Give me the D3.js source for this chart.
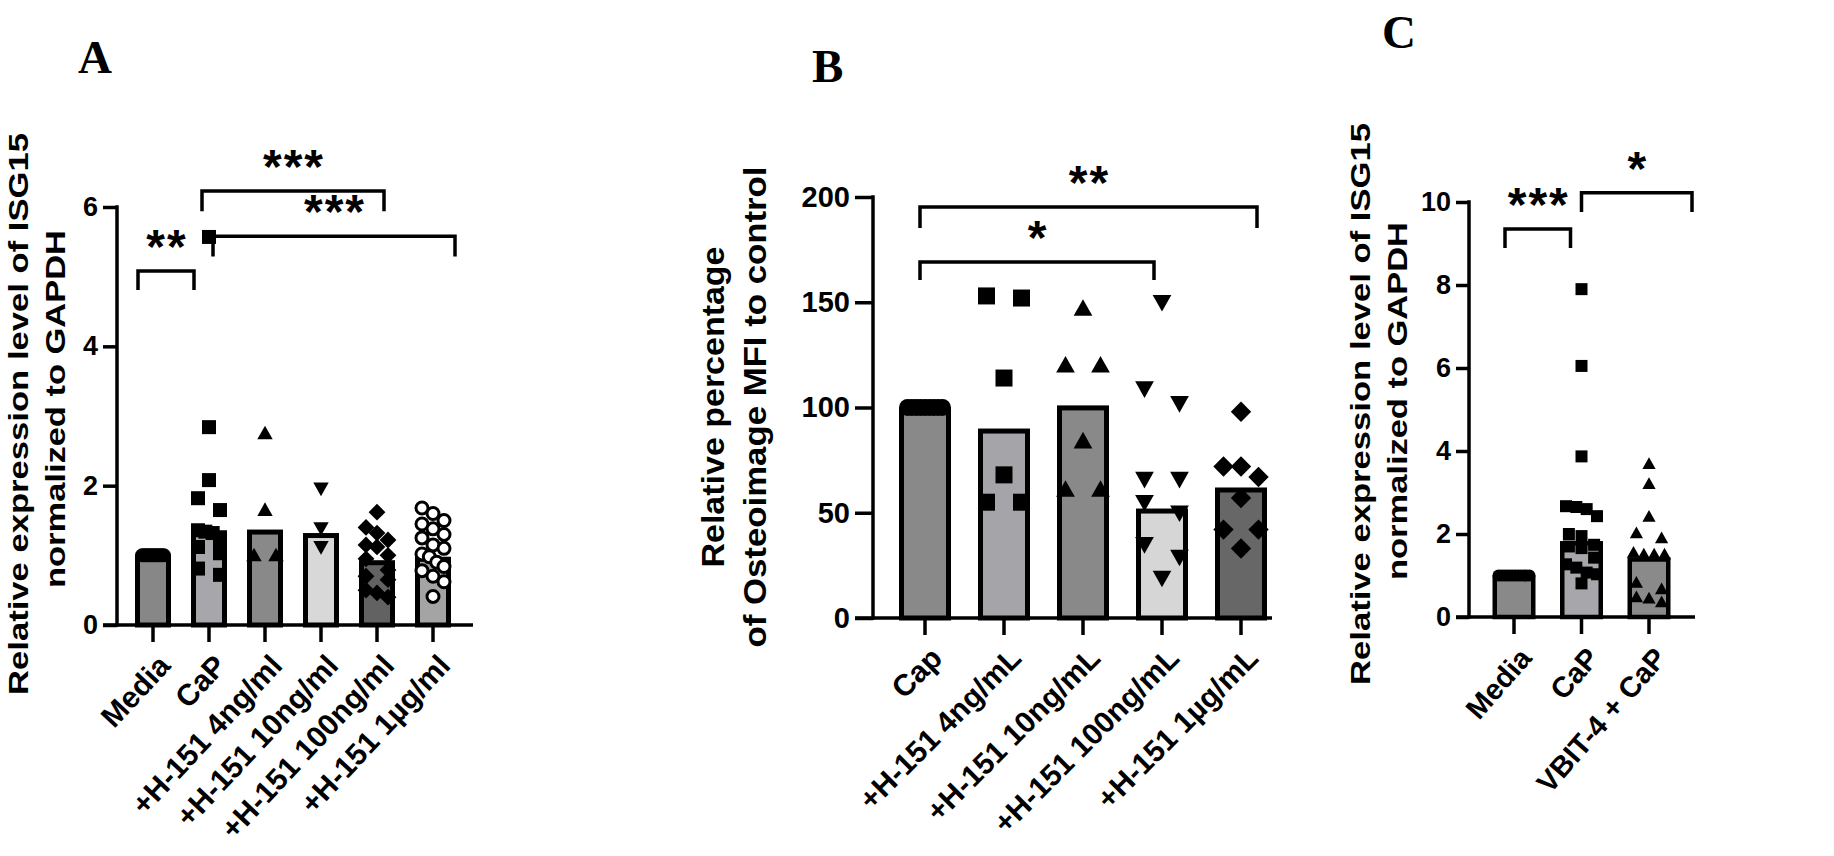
<!DOCTYPE html>
<html><head><meta charset="utf-8">
<script src="https://cdn.jsdelivr.net/npm/d3@7"></script>
<style>body{margin:0;background:#fff} svg{display:block}</style>
</head><body>
<svg id="chart" width="1834" height="856"></svg>
<script>
// ================= DATA =================
// Panel A : ISG15 expression, H-151 dose series
const categoriesA = ["Media","CaP","+H-151 4ng/ml","+H-151 10ng/ml","+H-151 100ng/ml","+H-151 1µg/ml"];
const barsA = [1.0, 1.36, 1.37, 1.32, 0.93, 0.98];
const mediaA = [1,1,1,1,1,1,1,1,1,1,1,1];
const capA = [5.57, 2.84, 2.08, 1.82, 1.65, 1.36, 1.34, 1.32, 1.22, 1.12, 1.03, 0.81, 0.72];
const h4A = [2.75, 1.65, 1.0, 1.0];
const h10A = [1.96, 1.39, 1.12];
const h100A = [1.62, 1.4, 1.32, 1.22, 1.15, 1.12, 1.0, 0.95, 0.79, 0.7, 0.65, 0.5, 0.46, 0.4];
const h1uA = [1.68, 1.6, 1.5, 1.45, 1.38, 1.3, 1.25, 1.15, 1.1, 1.02, 0.98, 0.9, 0.84, 0.78, 0.7, 0.62, 0.41];
const ticksA = [0, 2, 4, 6];
const sigA = [
  {from:"Media", to:"CaP", y:5.08, leg:4.81, label:"**", dx1:-15, dx2:-15},
  {from:"CaP", to:"+H-151 100ng/ml", y:6.23, leg:5.94, label:"***", dx1:-7, dx2:7},
  {from:"CaP", to:"+H-151 1µg/ml", y:5.58, leg:5.29, label:"***", dx1:4, dx2:22}
];
const titleA = ["Relative expression level of ISG15", "normalized to GAPDH"];

// Panel B : Osteoimage MFI
const categoriesB = ["Cap","+H-151 4ng/mL","+H-151 10ng/mL","+H-151 100ng/mL","+H-151 1µg/mL"];
const barsB = [100, 90, 101, 52, 62];
const capB = [100, 100, 100, 100, 100, 100, 100, 100, 100];
const h4B = [153, 152, 114, 68, 55, 55];
const h10B = [147, 120, 120, 84, 61, 61];
const h100B = [150, 109, 102, 66, 66, 55, 50, 35, 29, 19];
const h1uB = [98, 72, 72, 67, 57, 42, 42, 33];
const ticksB = [0, 50, 100, 150, 200];
const sigB = [
  {from:"Cap", to:"+H-151 1µg/mL", y:195.2, leg:185.3, label:"**", dx1:-5, dx2:16},
  {from:"Cap", to:"+H-151 100ng/mL", y:169.1, leg:160.6, label:"*", dx1:-5, dx2:-8}
];
const titleB = ["Relative percentage", "of Osteoimage MFI to control"];

// Panel C : ISG15 expression, VBIT-4
const categoriesC = ["Media","CaP","VBIT-4 + CaP"];
const barsC = [1.0, 1.83, 1.44];
const mediaC = [1,1,1,1,1,1,1,1,1,1,1,1];
const capC = [7.9, 6.05, 3.87, 2.67, 2.65, 2.6, 2.43, 2.0, 1.95, 1.74, 1.7, 1.66, 1.43, 1.27, 1.19, 1.07, 1.03, 0.81];
const vbitC = [3.69, 3.21, 2.42, 2.02, 1.9, 1.55, 1.51, 1.51, 1.51, 0.83, 0.67, 0.48, 0.45, 0.36];
const ticksC = [0, 2, 4, 6, 8, 10];
const sigC = [
  {from:"Media", to:"CaP", y:9.35, leg:8.89, label:"***", dx1:-9, dx2:-11},
  {from:"CaP", to:"VBIT-4 + CaP", y:10.22, leg:9.76, label:"*", dx1:0, dx2:43}
];
const titleC = ["Relative expression level of ISG15", "normalized to GAPDH"];

// ================= LAYOUT / STYLE =================
const panels = [
  { letter:"A", letterPos:[78,73], cats:categoriesA, bars:barsA,
    points:[mediaA,capA,h4A,h10A,h100A,h1uA],
    shapes:["circle","square","triangle","invtriangle","diamond","opencircle"],
    fills:["#878787","#a6a6ab","#898989","#d8d8d8","#626262","#a4a4a4"],
    ticks:ticksA, sig:sigA, title:titleA,
    yDomain:[0,6], yRange:[625,207], xCenters:[153,433], yAxisX:117, xAxisEnd:473,
    barW:36, barStroke:5, mSize:14, tickY:14, tickX:17,
    tickFont:27, xFont:30, xAngle:-47, titleFont:27, titleX:[28,65], titleY:[414,409], titleLen:[562,358] },
  { letter:"B", letterPos:[812,82], cats:categoriesB, bars:barsB,
    points:[capB,h4B,h10B,h100B,h1uB],
    shapes:["circle","square","triangle","invtriangle","diamond"],
    fills:["#898989","#a5a5a9","#898989","#d6d6d6","#676767"],
    ticks:ticksB, sig:sigB, title:titleB,
    yDomain:[0,200], yRange:[618,197], xCenters:[925,1241], yAxisX:873, xAxisEnd:1272,
    barW:52, barStroke:5, mSize:17, tickY:18, tickX:17,
    tickFont:29, xFont:30, xAngle:-45, titleFont:31, titleX:[724,766], titleY:[407,407], titleLen:[321,481] },
  { letter:"C", letterPos:[1382,48], cats:categoriesC, bars:barsC,
    points:[mediaC,capC,vbitC],
    shapes:["circle","square","triangle"],
    fills:["#898989","#a7a7ab","#8a8a8a"],
    ticks:ticksC, sig:sigC, title:titleC,
    yDomain:[0,10], yRange:[617,202], xCenters:[1514,1649], yAxisX:1469, xAxisEnd:1695,
    barW:43, barStroke:4.5, mSize:12, tickY:13, tickX:17,
    tickFont:27, xFont:29, xAngle:-49, titleFont:27, titleX:[1370,1407], titleY:[404,401], titleLen:[562,358] }
];

const FONT = "'Liberation Sans', Arial, sans-serif";
const svg = d3.select("#chart");

function markerPath(shape, s) {
  const h = s / 2;
  if (shape === "square") return `M${-h},${-h}H${h}V${h}H${-h}Z`;
  if (shape === "triangle") return `M0,${-h*1.1}L${h*1.1},${h*0.85}L${-h*1.1},${h*0.85}Z`;
  if (shape === "invtriangle") return `M0,${h*1.1}L${h*1.1},${-h*0.85}L${-h*1.1},${-h*0.85}Z`;
  if (shape === "diamond") return `M0,${-h*1.2}L${h*1.2},0L0,${h*1.2}L${-h*1.2},0Z`;
  const p = d3.path(); const r = shape === "opencircle" ? h - 1 : h;
  p.arc(0, 0, r, 0, 2 * Math.PI); return p.toString();
}

// GraphPad-like scatter: points grouped in rows, spread horizontally, clamped inside the bar
function layoutRows(vals, y, size, maxOff) {
  const pts = vals.map(v => ({v, py: y(v)})).sort((a, b) => a.py - b.py);
  const rows = []; let cur = null;
  for (const p of pts) {
    if (!cur || p.py - cur[0].py >= size * 0.95) { cur = [p]; rows.push(cur); } else cur.push(p);
  }
  const sp = size * 1.05;
  rows.forEach(r => {
    const k = r.length;
    let offs = k === 2 ? [-sp, sp] : r.map((_, i) => (i - (k - 1) / 2) * sp);
    const m = d3.max(offs, Math.abs);
    if (m > maxOff) offs = offs.map(o => o * maxOff / m);
    r.forEach((p, i) => p.dx = offs[i]);
  });
  return pts;
}

panels.forEach(P => {
  const g = svg.append("g");
  const x = d3.scalePoint().domain(P.cats).range(P.xCenters);
  const y = d3.scaleLinear().domain(P.yDomain).range(P.yRange);
  const y0 = y(0);

  // bars
  g.selectAll("rect.bar").data(P.cats).join("rect")
    .attr("x", d => x(d) - P.barW / 2 + P.barStroke / 2)
    .attr("width", P.barW - P.barStroke)
    .attr("y", (d, i) => y(P.bars[i]) + P.barStroke / 2)
    .attr("height", (d, i) => y0 - y(P.bars[i]) - P.barStroke / 2)
    .attr("fill", (d, i) => P.fills[i]).attr("stroke", "#000").attr("stroke-width", P.barStroke);

  // points
  P.cats.forEach((c, i) => {
    const pts = layoutRows(P.points[i], y, P.mSize, P.barW / 2 - P.mSize / 2);
    const open = P.shapes[i] === "opencircle";
    g.append("g").selectAll("path").data(pts).join("path")
      .attr("transform", d => `translate(${x(c) + d.dx},${d.py})`)
      .attr("d", markerPath(P.shapes[i], P.mSize))
      .attr("fill", open ? "#fff" : "#000")
      .attr("stroke", open ? "#000" : "none").attr("stroke-width", open ? 3 : 0);
  });

  // y axis
  const yAxis = d3.axisLeft(y).tickValues(P.ticks).tickSize(P.tickY).tickPadding(5).tickFormat(d3.format("d"));
  const ya = g.append("g").attr("transform", `translate(${P.yAxisX},0)`).call(yAxis);
  ya.select(".domain").remove();
  ya.selectAll(".tick line").attr("stroke", "#000").attr("stroke-width", 3.5);
  ya.selectAll(".tick text").attr("font-family", FONT).attr("font-weight", "bold")
    .attr("font-size", P.tickFont).attr("fill", "#000");
  g.append("line").attr("x1", P.yAxisX).attr("x2", P.yAxisX)
    .attr("y1", y0 + 1.75).attr("y2", y(P.yDomain[1]) - 1.75)
    .attr("stroke", "#000").attr("stroke-width", 3.5);

  // x axis
  g.append("line").attr("x1", P.yAxisX - P.tickY).attr("x2", P.xAxisEnd)
    .attr("y1", y0).attr("y2", y0).attr("stroke", "#000").attr("stroke-width", 3.5);
  g.selectAll("line.xt").data(P.cats).join("line")
    .attr("x1", d => x(d)).attr("x2", d => x(d)).attr("y1", y0).attr("y2", y0 + P.tickX)
    .attr("stroke", "#000").attr("stroke-width", 3.5);
  g.selectAll("text.xl").data(P.cats).join("text")
    .attr("transform", d => `translate(${x(d) + 19},${y0 + 42}) rotate(${P.xAngle})`)
    .attr("text-anchor", "end").attr("font-family", FONT).attr("font-weight", "bold")
    .attr("font-size", P.xFont).text(d => d);

  // y title
  P.title.forEach((t, i) => {
    g.append("text")
      .attr("transform", `translate(${P.titleX[i]},${P.titleY[i]}) rotate(-90)`)
      .attr("text-anchor", "middle").attr("font-family", FONT).attr("font-weight", "bold")
      .attr("font-size", P.titleFont).attr("textLength", P.titleLen[i])
      .attr("lengthAdjust", "spacingAndGlyphs").text(t);
  });

  // significance brackets
  P.sig.forEach(s => {
    const xa = x(s.from) + s.dx1, xb = x(s.to) + s.dx2, yl = y(s.y), yb = y(s.leg);
    g.append("path").attr("d", `M${xa},${yb}V${yl}H${xb}V${yb}`)
      .attr("fill", "none").attr("stroke", "#000").attr("stroke-width", 3.5);
    g.append("text").attr("x", (xa + xb) / 2 + 1).attr("y", yl - 8)
      .attr("text-anchor", "middle").attr("font-family", FONT).attr("font-weight", "bold")
      .attr("font-size", 48).attr("letter-spacing", 2).text(s.label);
  });

  // panel letter
  g.append("text").attr("x", P.letterPos[0]).attr("y", P.letterPos[1])
    .attr("font-family", "'Liberation Serif', 'Times New Roman', serif").attr("font-weight", "bold")
    .attr("font-size", 47).text(P.letter);
});
</script>
</body></html>
